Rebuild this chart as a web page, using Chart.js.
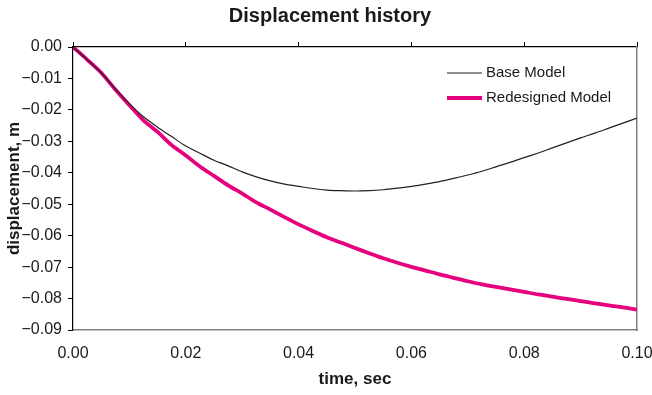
<!DOCTYPE html>
<html><head><meta charset="utf-8">
<script src="https://cdn.jsdelivr.net/npm/chart.js@4/dist/chart.umd.min.js"></script>
<style>html,body{margin:0;padding:0;background:#fff}#wrap{width:652px;height:395px}</style>
</head><body><div id="wrap"><canvas id="c" width="652" height="395"></canvas></div>
<script>
const chartTitle = 'Displacement history';
const xTitle = 'time, sec';
const yTitle = 'displacement, m';
const seriesNames = ['Base Model', 'Redesigned Model'];
const timeSec = [0, 0.0025, 0.005, 0.0075, 0.01, 0.0125, 0.015, 0.0175, 0.02, 0.0225,
  0.025, 0.0275, 0.03, 0.0325, 0.035, 0.0375, 0.04, 0.0425, 0.045, 0.0475,
  0.05, 0.0525, 0.055, 0.0575, 0.06, 0.0625, 0.065, 0.0675, 0.07, 0.0725,
  0.075, 0.0775, 0.08, 0.0825, 0.085, 0.0875, 0.09, 0.0925, 0.095, 0.0975, 0.1];
const baseModel = [0, -0.0040, -0.0082, -0.0133, -0.0180, -0.0222, -0.0255, -0.0285, -0.0315, -0.0338,
  -0.0360, -0.0378, -0.0397, -0.0413, -0.0426, -0.0436, -0.0443, -0.0450, -0.0455, -0.0457,
  -0.0458, -0.0457, -0.0454, -0.0449, -0.0443, -0.0436, -0.0428, -0.0418, -0.0407, -0.0395,
  -0.0381, -0.0367, -0.0352, -0.0337, -0.0321, -0.0305, -0.0289, -0.0274, -0.0258, -0.0242, -0.0226];
const redesignedModel = [0, -0.0040, -0.0082, -0.0135, -0.0185, -0.0233, -0.0270, -0.0312, -0.0345, -0.0380,
  -0.0410, -0.0440, -0.0466, -0.0494, -0.0517, -0.0541, -0.0564, -0.0585, -0.0605, -0.0622,
  -0.0639, -0.0656, -0.0672, -0.0686, -0.0699, -0.0711, -0.0723, -0.0734, -0.0745, -0.0755,
  -0.0763, -0.0771, -0.0779, -0.0787, -0.0794, -0.0801, -0.0808, -0.0815, -0.0822, -0.0828, -0.0835];
const xTickValues = [0, 0.02, 0.04, 0.06, 0.08, 0.10];
const yTickValues = [0, -0.01, -0.02, -0.03, -0.04, -0.05, -0.06, -0.07, -0.08, -0.09];

const FONT = "'Liberation Sans', Arial, sans-serif";
const toPts = arr => arr.map((v, i) => ({x: timeSec[i], y: v}));

const titlePlugin = {
  id: 'plainTitle',
  afterDraw(chart) {
    const ctx = chart.ctx;
    ctx.save();
    ctx.font = `bold 20px ${FONT}`;
    ctx.fillStyle = '#1a1a1a';
    ctx.textAlign = 'center';
    ctx.textBaseline = 'middle';
    ctx.fillText(chartTitle, 330, 16);
    ctx.restore();
  }
};

const legendPlugin = {
  id: 'insideLegend',
  afterDatasetsDraw(chart) {
    const ctx = chart.ctx;
    const ys = [73, 98];
    ctx.save();
    chart.data.datasets.forEach((ds, i) => {
      ctx.strokeStyle = ds.borderColor;
      ctx.lineWidth = ds.borderWidth;
      ctx.beginPath();
      ctx.moveTo(447, ys[i]);
      ctx.lineTo(482, ys[i]);
      ctx.stroke();
      ctx.font = `15px ${FONT}`;
      ctx.fillStyle = '#1a1a1a';
      ctx.textAlign = 'left';
      ctx.textBaseline = 'middle';
      ctx.fillText(ds.label, 486, ys[i]);
    });
    ctx.restore();
  }
};

const noPad = s => { s.paddingLeft = 0; s.paddingRight = 0; };

new Chart(document.getElementById('c'), {
  type: 'line',
  data: {
    datasets: [
      {label: seriesNames[0], data: toPts(baseModel), borderColor: '#222222', borderWidth: 1.2, pointRadius: 0, tension: 0.3, fill: false},
      {label: seriesNames[1], data: toPts(redesignedModel), borderColor: '#E6007E', borderWidth: 3.8, pointRadius: 0, tension: 0.3, fill: false}
    ]
  },
  options: {
    responsive: false,
    animation: false,
    devicePixelRatio: 1,
    layout: {padding: 0},
    plugins: {legend: {display: false}, title: {display: false}, tooltip: {enabled: false}},
    scales: {
      x: {
        type: 'linear', position: 'bottom', min: 0, max: 0.1,
        afterBuildTicks: s => { s.ticks = xTickValues.map(v => ({value: v})); },
        afterFit: s => { s.height = 65; noPad(s); },
        ticks: {callback: v => Number(v).toFixed(2), font: {family: FONT, size: 16}, color: '#1a1a1a', padding: 14, maxRotation: 0},
        grid: {drawOnChartArea: false, drawTicks: false},
        border: {color: '#808080', width: 1.5},
        title: {display: true, text: xTitle, font: {family: FONT, size: 17, weight: 'bold'}, color: '#1a1a1a', padding: {top: 0, bottom: 5}}
      },
      x2: {
        type: 'linear', position: 'top', min: 0, max: 0.1,
        afterBuildTicks: s => { s.ticks = xTickValues.map(v => ({value: v})); },
        afterFit: s => { s.height = 47; noPad(s); },
        ticks: {display: false},
        grid: {drawOnChartArea: false, drawTicks: true, tickLength: 5, color: '#000', lineWidth: 1},
        border: {color: '#000', width: 1.2}
      },
      y: {
        type: 'linear', position: 'left', min: -0.09, max: 0,
        afterBuildTicks: s => { s.ticks = yTickValues.map(v => ({value: v})); },
        afterFit: s => { s.width = 73; },
        ticks: {callback: v => (v < -1e-9 ? '\u2212' : '') + Math.abs(v).toFixed(2), font: {family: FONT, size: 16}, color: '#1a1a1a', padding: 6},
        grid: {drawOnChartArea: false, drawTicks: true, tickLength: 5, color: '#000', lineWidth: 1},
        border: {color: '#000', width: 1.2},
        title: {display: true, text: yTitle, font: {family: FONT, size: 17, weight: 'bold'}, color: '#1a1a1a', padding: {top: 4, bottom: 0}}
      },
      y2: {
        type: 'linear', position: 'right', min: -0.09, max: 0,
        afterFit: s => { s.width = 15; },
        ticks: {display: false},
        grid: {display: false, drawTicks: false},
        border: {color: '#808080', width: 1.5}
      }
    }
  },
  plugins: [titlePlugin, legendPlugin]
});
</script>
</body></html>
